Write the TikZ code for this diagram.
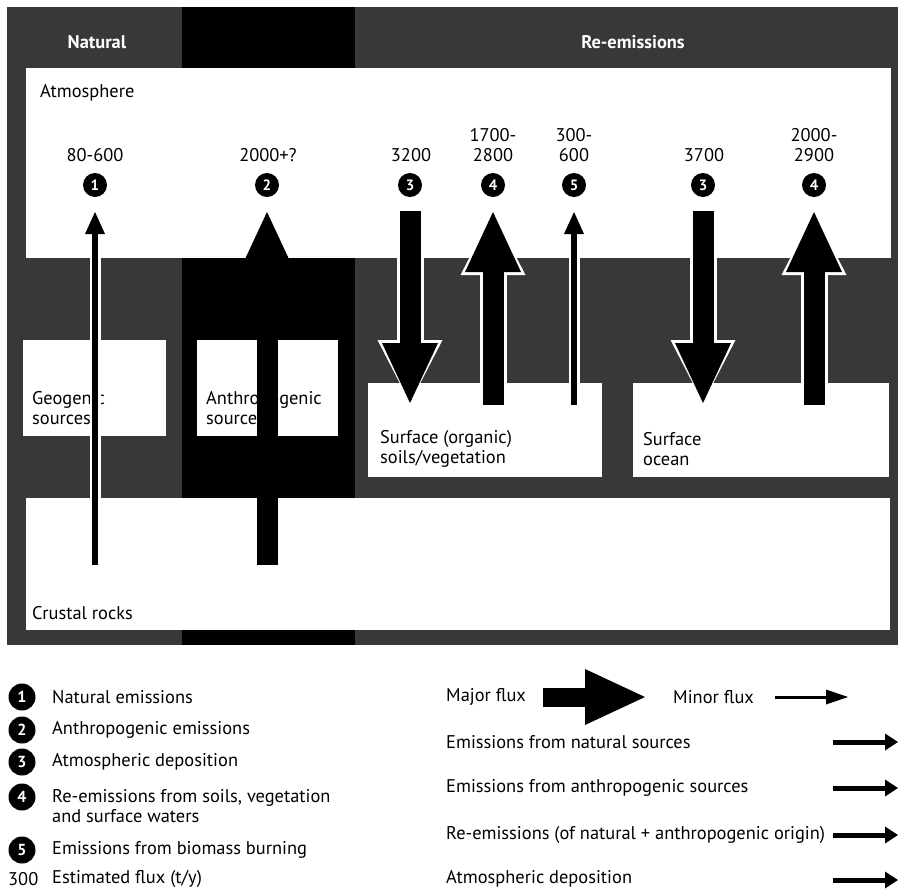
\documentclass[tikz,border=0pt]{standalone}
\usepackage{fontspec}
\setmainfont{PT Sans}
\usetikzlibrary{arrows.meta}

\begin{document}
\begin{tikzpicture}[x=1pt, y=-1pt, font=\fontsize{18.4}{20}\selectfont, line join=miter,
    stip/.style={fill=black!78},
    txt/.style={anchor=west, inner sep=0pt, align=left},
    flux/.style={inner sep=0pt, align=center},
    num/.style={circle, fill=black, text=white, minimum size=24pt, inner sep=0pt, font=\fontsize{15}{15}\selectfont\bfseries},
    bignum/.style={num, minimum size=27pt, font=\fontsize{16}{16}\selectfont\bfseries},
    major/.style={line width=21pt, -{Triangle[length=60pt, width=56pt, line width=0pt]}},
    majorhalo/.style={white, line width=27pt, -{Triangle[length=63pt, width=65pt, line width=0pt]}},
    minor/.style={line width=6pt, -{Triangle[length=22pt, width=20pt, line width=0pt]}},
    minorhalo/.style={white, line width=11pt, -{Triangle[length=25pt, width=28pt, line width=0pt]}},
    keyminor/.style={line width=3pt, -{Triangle[length=22pt, width=15pt, line width=0pt]}},
    keyflux/.style={line width=5pt, -{Triangle[length=13pt, width=17pt, line width=0pt]}}]
    \useasboundingbox (0,0) rectangle (900,892);
    % columns
    \fill[stip] (7,7) rectangle (182,645);
    \fill[black] (182,7) rectangle (355,645);
    \fill[stip] (355,7) rectangle (898,645);
    \node[text=white, font=\fontsize{18.4}{20}\selectfont\bfseries] (hnat) at (97,42) {Natural};
    \node[text=white, font=\fontsize{18.4}{20}\selectfont\bfseries] (hre) at (633,42) {Re-emissions};
    % reservoirs
    \fill[white] (26,68) rectangle (891,258);
    \fill[white] (26,498) rectangle (890,630);
    \fill[white] (23,340) rectangle (166,436);
    \fill[white] (197,340) rectangle (338,436);
    \fill[white] (368,383) rectangle (602,477);
    \fill[white] (633,383) rectangle (889,477);
    \node[txt] (atm) at (40,93) {Atmosphere};
    \node[txt] (geo) at (32,408) {Geogenic\\sources};
    \node[txt] (ant) at (206,408) {Anthropogenic\\sources};
    \node[txt] (soil) at (380,449) {Surface (organic)\\soils/vegetation};
    \node[txt] (ocean) at (643,449) {Surface\\ocean};
    \node[txt] (crust) at (32,613) {Crustal rocks};
    % fluxes
    \node[flux] (f1) at (95,155) {80-600};
    \node[flux] (f2) at (268,155) {2000+?};
    \node[flux] (f3) at (411,155) {3200};
    \node[flux] (f4) at (493,145) {1700-\\2800};
    \node[flux] (f5) at (574,145) {300-\\600};
    \node[flux] (f6) at (704,155) {3700};
    \node[flux] (f7) at (814,145) {2000-\\2900};
    \node[num] (n1) at (95,185) {1};
    \node[num] (n2) at (267,185) {2};
    \node[num] (n3) at (410,185) {3};
    \node[num] (n4) at (493,185) {4};
    \node[num] (n5) at (574,185) {5};
    \node[num] (n6) at (703,185) {3};
    \node[num] (n7) at (814,185) {4};
    \coordinate (e1a) at (95,565);  \coordinate (e1b) at (95,212);
    \coordinate (e2a) at (267,565); \coordinate (e2b) at (267,212);
    \coordinate (d1a) at (410,211); \coordinate (d1b) at (410,403);
    \coordinate (r1a) at (493,405); \coordinate (r1b) at (493,212);
    \coordinate (b1a) at (574,405); \coordinate (b1b) at (574,212);
    \coordinate (d2a) at (703,211); \coordinate (d2b) at (703,403);
    \coordinate (r2a) at (814,405); \coordinate (r2b) at (814,212);
    \draw[minorhalo] (e1a) -- (e1b);
    \draw[minorhalo] (b1a) -- (b1b);
    \draw[majorhalo] (d1a) -- (d1b);
    \draw[majorhalo] (r1a) -- (r1b);
    \draw[majorhalo] (d2a) -- (d2b);
    \draw[majorhalo] (r2a) -- (r2b);
    \draw[minor] (e1a) -- (e1b);
    \draw[major] (e2a) -- (e2b);
    \draw[major] (d1a) -- (d1b);
    \draw[major] (r1a) -- (r1b);
    \draw[minor] (b1a) -- (b1b);
    \draw[major] (d2a) -- (d2b);
    \draw[major] (r2a) -- (r2b);
    % key
    \node[bignum] (k1) at (22,697) {1};
    \node[bignum] (k2) at (22,730) {2};
    \node[bignum] (k3) at (22,762) {3};
    \node[bignum] (k4) at (22,797) {4};
    \node[bignum] (k5) at (22,850) {5};
    \node[txt] (l1) at (52,697) {Natural emissions};
    \node[txt] (l2) at (52,730) {Anthropogenic emissions};
    \node[txt] (l3) at (52,762) {Atmospheric deposition};
    \node[txt, anchor=north west] (l4) at (52,789) {Re-emissions from soils, vegetation\\and surface waters};
    \node[txt] (l5) at (52,850) {Emissions from biomass burning};
    \node[txt] (l6) at (8,879) {300};
    \node[txt] (l7) at (52,879) {Estimated flux (t/y)};
    \node[txt] (m1) at (446,697) {Major flux};
    \node[txt] (m2) at (673,697) {Minor flux};
    \node[txt] (m3) at (446,742) {Emissions from natural sources};
    \node[txt] (m4) at (446,788) {Emissions from anthropogenic sources};
    \node[txt] (m5) at (446,835) {Re-emissions (of natural + anthropogenic origin)};
    \node[txt] (m6) at (446,879) {Atmospheric deposition};
    \coordinate (ma) at (543,697); \coordinate (mb) at (645,697);
    \coordinate (na) at (775,697); \coordinate (nb) at (848,697);
    \draw[major, line width=19pt] (ma) -- (mb);
    \draw[keyminor] (na) -- (nb);
    \foreach \y in {742,788,835,880} {
        \coordinate (ka) at (833,\y); \coordinate (kb) at (898,\y);
        \draw[keyflux] (ka) -- (kb);
    }
\end{tikzpicture}
\end{document}
